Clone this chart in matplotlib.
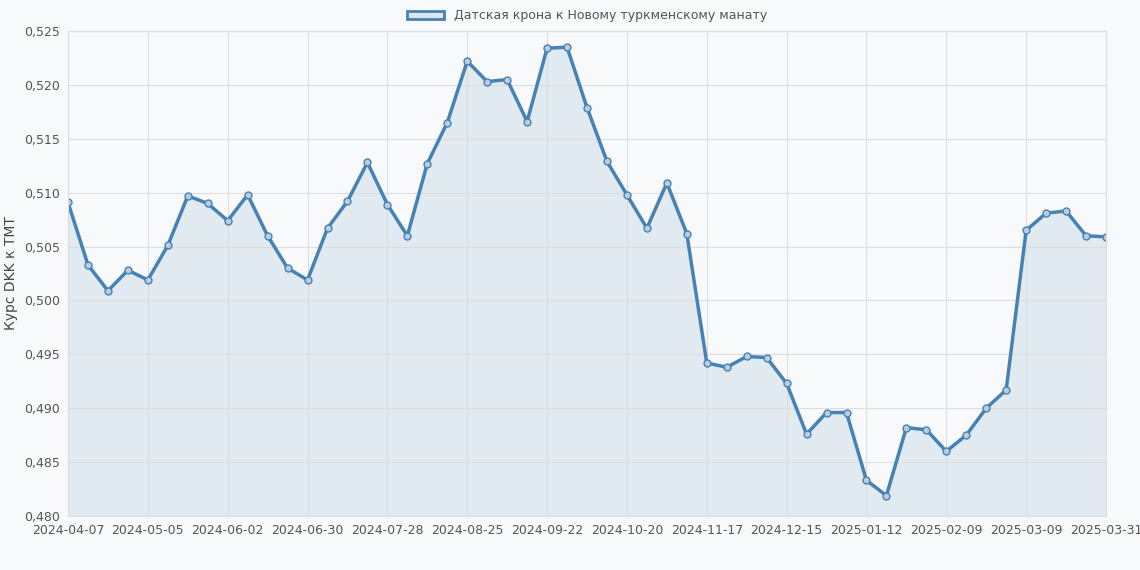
import matplotlib
matplotlib.use('Agg')
import matplotlib.pyplot as plt
from matplotlib.ticker import FuncFormatter
from matplotlib.patches import Patch

values = [0.5091, 0.5033, 0.5009, 0.5028, 0.5019, 0.5051, 0.5097, 0.5090, 0.5074, 0.5098,
          0.5060, 0.5030, 0.5019, 0.5067, 0.5092, 0.5128, 0.5089, 0.5060, 0.5127, 0.5165,
          0.5222, 0.5203, 0.5205, 0.5166, 0.5234, 0.5235, 0.5179, 0.5129, 0.5098, 0.5067,
          0.5109, 0.5062, 0.4942, 0.4938, 0.4948, 0.4947, 0.4923, 0.4876, 0.4896, 0.4896,
          0.4833, 0.4819, 0.4882, 0.4880, 0.4860, 0.4875, 0.4900, 0.4917, 0.5065, 0.5081,
          0.5083, 0.5060, 0.5059]
tick_pos = [0, 4, 8, 12, 16, 20, 24, 28, 32, 36, 40, 44, 48, 52]
tick_labels = ['2024-04-07', '2024-05-05', '2024-06-02', '2024-06-30', '2024-07-28',
               '2024-08-25', '2024-09-22', '2024-10-20', '2024-11-17', '2024-12-15',
               '2025-01-12', '2025-02-09', '2025-03-09', '2025-03-31']

bg = '#f8f9fa'
line_c = '#4682b4'
fig = plt.figure(figsize=(11.4, 5.7), dpi=100, facecolor=bg)
ax = fig.add_axes([68 / 1140, 1 - 516 / 570, (1106 - 68) / 1140, (516 - 31) / 570])
ax.set_facecolor(bg)
x = list(range(len(values)))
ax.fill_between(x, values, 0.480, color=line_c, alpha=0.12, linewidth=0)
ax.plot(x, values, color=line_c, linewidth=2.5, marker='o', markersize=5,
        markerfacecolor='#b9cde0', markeredgecolor=line_c, markeredgewidth=1)
ax.set_xlim(0, len(values) - 1)
ax.set_ylim(0.480, 0.525)
ax.set_yticks([0.480 + 0.005 * i for i in range(10)])
ax.yaxis.set_major_formatter(FuncFormatter(lambda v, p: f'{v:.3f}'.replace('.', ',')))
ax.set_xticks(tick_pos)
ax.set_xticklabels(tick_labels)
ax.grid(True, color='#dddddd', linewidth=0.8)
for s in ax.spines.values():
    s.set_color('#dddddd')
ax.tick_params(colors='#555555', labelsize=9, length=0, pad=6)
ax.set_ylabel('Курс DKK к TMT', color='#444444', fontsize=10)
ax.legend(handles=[Patch(facecolor='#dce6ef', edgecolor=line_c, linewidth=2,
                         label='Датская крона к Новому туркменскому манату')],
          loc='lower center', bbox_to_anchor=(0.5, 1.0), frameon=False,
          fontsize=9, labelcolor='#555555', handlelength=3, borderaxespad=0.3)
fig.savefig('out.png', dpi=100, facecolor=bg)
